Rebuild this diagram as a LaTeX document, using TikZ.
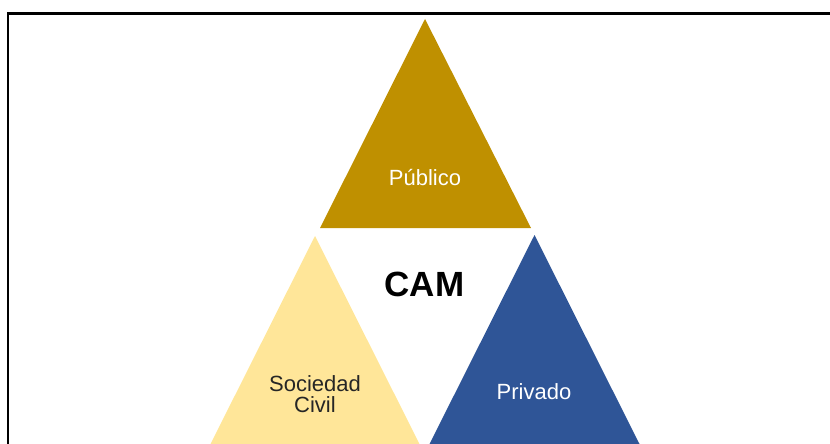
\documentclass[tikz,border=0pt]{standalone}
\usepackage{fontspec}
\setmainfont{Liberation Sans}
\definecolor{publico}{RGB}{191,144,0}
\definecolor{sociedad}{RGB}{255,230,153}
\definecolor{privado}{RGB}{47,85,151}
\definecolor{textgray}{RGB}{38,38,38}
\begin{document}
\begin{tikzpicture}[x=1pt,y=-1pt,
    label/.style={font=\fontsize{22}{21.5}\selectfont,inner sep=0pt,align=center}]
  \useasboundingbox (0,0) rectangle (830,444);
  
  % Frame
  \draw[black,line width=2.5pt] (8,470) -- (8,13.5) -- (850,13.5);
  
  % Triangles
  \fill[publico] (425,19) -- (531,228) -- (320,228) -- cycle;
  \fill[sociedad] (315,236) -- (420.5,446) -- (209.5,446) -- cycle;
  \fill[privado] (534.5,235) -- (640,445) -- (429,445) -- cycle;
  
  % Labels
  \node[label,white,anchor=base] (pub) at (425,185) {Público};
  \node[label,textgray] (soc) at (315,394) {Sociedad\\Civil};
  \node[label,white,anchor=base] (priv) at (534,399.3) {Privado};
  \node[font=\fontsize{35}{35}\selectfont\bfseries,inner sep=0pt,anchor=base] (cam) at (424.5,296.7) {CAM};
  
\end{tikzpicture}
\end{document}
